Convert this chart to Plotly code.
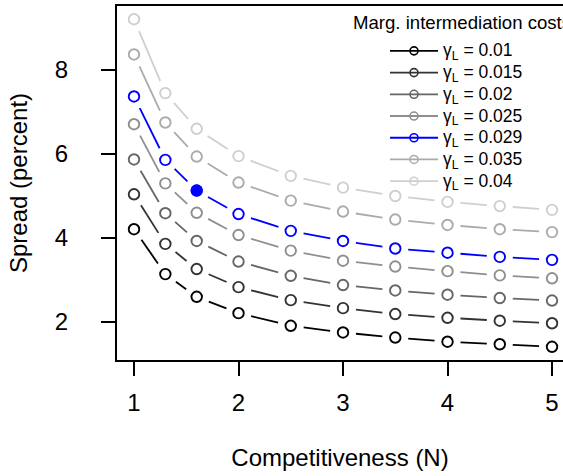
import plotly.graph_objects as go
import math

N = [1, 1.3, 1.6, 2, 2.5, 3, 3.5, 4, 4.5, 5]
gamma_labels = ["0.01", "0.015", "0.02", "0.025", "0.029", "0.035", "0.04"]
s_010 = [4.21, 3.14, 2.60, 2.21, 1.91, 1.75, 1.63, 1.53, 1.47, 1.41]
s_015 = [5.04, 3.86, 3.26, 2.83, 2.52, 2.33, 2.19, 2.10, 2.03, 1.97]
s_020 = [5.87, 4.59, 3.93, 3.44, 3.10, 2.88, 2.75, 2.65, 2.57, 2.51]
s_025 = [6.71, 5.30, 4.60, 4.07, 3.70, 3.46, 3.32, 3.21, 3.11, 3.04]
s_029 = [7.37, 5.86, 5.13, 4.57, 4.17, 3.93, 3.75, 3.65, 3.55, 3.48]
s_035 = [8.37, 6.75, 5.94, 5.32, 4.89, 4.63, 4.44, 4.31, 4.21, 4.14]
s_040 = [9.21, 7.45, 6.60, 5.95, 5.48, 5.20, 5.00, 4.86, 4.76, 4.67]
series = [s_010, s_015, s_020, s_025, s_029, s_035, s_040]
colors = ["#000000", "#333333", "#666666", "#8f8f8f", "#0000ff", "#ababab", "#cfcfcf"]
highlight_N = 1.6
highlight_val = 5.13
highlight_series = 4

W, H = 563, 476
ml, mr, mt, mb = 117, 0, 6, 116
xr = [0.8373, 5.105]
yr = [1.095, 9.524]
pw = W - ml - mr
ph = H - mt - mb
sx = pw / (xr[1] - xr[0])
sy = ph / (yr[1] - yr[0])
gap = 13.0

FONT = "Liberation Sans, Arial, sans-serif"

fig = go.Figure()

for vals, col, lab in zip(series, colors, gamma_labels):
    xs, ys = [], []
    for i in range(len(N) - 1):
        x0, y0, x1, y1 = N[i], vals[i], N[i + 1], vals[i + 1]
        dx, dy = (x1 - x0) * sx, (y1 - y0) * sy
        d = math.hypot(dx, dy)
        if d <= 2 * gap:
            continue
        f = gap / d
        xs += [x0 + (x1 - x0) * f, x1 - (x1 - x0) * f, None]
        ys += [y0 + (y1 - y0) * f, y1 - (y1 - y0) * f, None]
    fig.add_trace(go.Scatter(x=xs, y=ys, mode="lines", line=dict(color=col, width=1.8),
                             showlegend=False, hoverinfo="skip", legendgroup=lab))
    fig.add_trace(go.Scatter(x=N, y=vals, mode="markers",
                             marker=dict(symbol="circle-open", size=10.5, color=col,
                                         line=dict(width=1.9, color=col)),
                             showlegend=False, legendgroup=lab))

for vals, col, lab in zip(series, colors, gamma_labels):
    fig.add_trace(go.Scatter(x=[None], y=[None], mode="lines+markers",
                             name="<span style='font-size:17.5px'>γ<sub>L</sub> = " + lab + "</span>",
                             legendgroup=lab,
                             line=dict(color=col, width=1.8),
                             marker=dict(symbol="circle-open", size=8, color=col,
                                         line=dict(width=1.6, color=col))))

fig.add_trace(go.Scatter(x=[highlight_N], y=[highlight_val], mode="markers",
                         marker=dict(symbol="circle", size=12, color=colors[highlight_series]),
                         showlegend=False))

fig.update_layout(
    width=W, height=H,
    margin=dict(l=ml, r=mr, t=mt, b=mb),
    paper_bgcolor="white", plot_bgcolor="white",
    font=dict(family=FONT, color="black"),
    showlegend=True,
    legend=dict(x=(393 - 8 - ml) / pw, y=1 - (35 - mt) / ph, xanchor="left", yanchor="top",
                font=dict(size=14.4, family=FONT), bgcolor="rgba(0,0,0,0)",
                tracegroupgap=0, itemclick=False, itemwidth=48),
    xaxis=dict(range=xr, tickvals=[1, 2, 3, 4, 5], showgrid=False, zeroline=False,
               showline=True, mirror=True, linecolor="black", linewidth=2,
               ticks="outside", ticklen=14, tickwidth=2, tickcolor="black",
               tickfont=dict(size=24), ticklabelstandoff=6,
               title=dict(text="Competitiveness (N)", font=dict(size=24), standoff=34)),
    yaxis=dict(range=yr, tickvals=[2, 4, 6, 8], showgrid=False, zeroline=False,
               showline=True, mirror=False, linecolor="black", linewidth=2,
               ticks="outside", ticklen=14, tickwidth=2, tickcolor="black",
               tickfont=dict(size=24), ticklabelstandoff=28,
               title=dict(text="Spread (percent)", font=dict(size=24), standoff=20)),
    annotations=[dict(text="Marg. intermediation costs",
                      x=(351 - ml) / pw, y=1 - (22 - mt) / ph, xref="paper", yref="paper",
                      showarrow=False, xanchor="left", yanchor="middle",
                      font=dict(size=18.6, family=FONT))],
)

fig.write_html("out.html", config={"displayModeBar": False},
               post_script="document.body.style.margin='0px';document.body.style.overflow='hidden';")
